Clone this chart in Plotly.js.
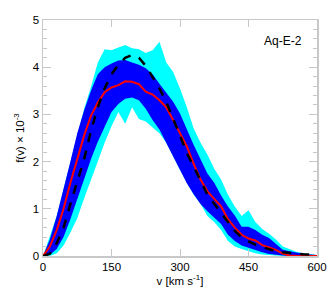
<!DOCTYPE html>
<html>
<head>
<meta charset="utf-8">
<script src="https://cdn.plot.ly/plotly-3.0.1.min.js"></script>
<style>html,body{margin:0;padding:0;background:#fff;}#chart{width:332px;height:295px;}</style>
</head>
<body>
<div id="chart"></div>
<script>
// speed grid, km/s
const velocity = [0,15,30,45,60,75,90,105,120,135,150,165,180,195,210,225,240,255,270,285,300,315,330,345,360,375,390,405,420,435,450,465,480,495,510,525,540,555,570,585,600];
// outer (cyan) band
const cyanLower = [0,0,0.06,0.22,0.5,0.8,1.22,1.62,2.0,2.4,2.75,3.05,2.8,3.15,2.9,2.85,2.72,2.6,2.4,2.1,1.82,1.55,1.3,1.1,0.85,0.72,0.55,0.32,0.2,0.15,0.1,0.06,0.03,0.015,0.005,0,0,0,0,0,0];
const cyanUpper = [0,0.42,0.85,1.42,2.0,2.55,3.12,3.58,4.1,4.38,4.36,4.42,4.47,4.4,4.38,4.3,4.36,4.54,4.1,3.9,3.55,3.15,2.7,2.4,2.15,1.85,1.62,1.3,1.05,0.85,0.97,0.72,0.57,0.47,0.35,0.2,0.14,0.09,0.06,0.04,0.02];
// inner (blue) band
const blueLower = [0,0.02,0.15,0.4,0.78,1.22,1.65,2.05,2.42,2.75,3.05,3.22,3.33,3.36,3.3,3.12,2.88,2.68,2.4,2.1,1.82,1.54,1.31,1.1,0.95,0.82,0.68,0.45,0.32,0.22,0.17,0.12,0.08,0.04,0.02,0.01,0,0,0,0,0];
const blueUpper = [0,0.35,0.85,1.4,2.0,2.6,3.08,3.5,3.85,4.0,4.08,4.14,4.15,4.1,4.05,3.98,3.85,3.65,3.45,3.27,3.02,2.67,2.35,2.05,1.75,1.55,1.28,1.05,0.86,0.62,0.62,0.55,0.45,0.38,0.25,0.13,0.1,0.07,0.05,0.03,0.02];
// median (red)
const median = [0,0.2,0.55,1.0,1.55,2.05,2.55,2.97,3.25,3.47,3.57,3.62,3.7,3.69,3.64,3.48,3.42,3.3,3.15,2.88,2.6,2.32,1.95,1.62,1.37,1.2,1.05,0.78,0.6,0.45,0.37,0.33,0.23,0.18,0.13,0.05,0.01,0.005,0.003,0.002,0.001];
// model (dashed black)
const model = [0,0.05,0.27,0.6,1.1,1.6,2.05,2.65,3.15,3.55,3.85,4.05,4.2,4.26,4.2,4.03,3.8,3.55,3.26,2.92,2.55,2.18,1.9,1.6,1.3,1.1,0.92,0.72,0.53,0.4,0.31,0.24,0.19,0.15,0.1,0.08,0.06,0.045,0.035,0.03,0.025];

const xTicks = [0,150,300,450,600];
const yTicks = [0,1,2,3,4,5];

const traces = [
  {x: velocity, y: cyanLower, mode:'lines', line:{width:0, color:'#00ffff'}, hoverinfo:'skip', showlegend:false},
  {x: velocity, y: cyanUpper, mode:'lines', line:{width:0, color:'#00ffff'}, fill:'tonexty', fillcolor:'#00ffff', showlegend:false},
  {x: velocity, y: blueLower, mode:'lines', line:{width:0, color:'#0000ff'}, hoverinfo:'skip', showlegend:false},
  {x: velocity, y: blueUpper, mode:'lines', line:{width:0, color:'#0000ff'}, fill:'tonexty', fillcolor:'#0000ff', showlegend:false},
  {x: velocity, y: median, mode:'lines', line:{width:2, color:'#ff0000'}, showlegend:false},
  {x: velocity, y: model, mode:'lines', line:{width:2.5, color:'#000000', dash:'dash'}, showlegend:false}
];

const font = {family:'"Liberation Sans", Arial, Helvetica, sans-serif', size:11.5, color:'#000'};
const axisCol = '#c8c8c8';

const layout = {
  width:332, height:295,
  margin:{l:43, r:15, t:20, b:39},
  paper_bgcolor:'#fff', plot_bgcolor:'#fff',
  font: font,
  xaxis:{
    range:[0,600], tickvals:xTicks, ticktext:xTicks.map(String),
    showgrid:false, zeroline:false,
    showline:true, linecolor:axisCol, linewidth:1.5, mirror:'ticks',
    ticks:'inside', ticklen:7, tickcolor:axisCol, tickwidth:1,
    tickfont:font,
    title:{text:'v [km s<sup>-1</sup>]', font:font, standoff:2}
  },
  yaxis:{
    range:[0,5], tickvals:yTicks, ticktext:yTicks.map(String),
    showgrid:false, zeroline:false,
    showline:true, linecolor:axisCol, linewidth:1.5, mirror:'ticks',
    ticks:'inside', ticklen:8, tickcolor:axisCol, tickwidth:1,
    minor:{dtick:0.2, ticks:'inside', ticklen:4, tickcolor:axisCol, tickwidth:1, showgrid:false},
    tickfont:font,
    title:{text:'f(v) × 10<sup>-3</sup>', font:font, standoff:6}
  },
  annotations:[
    {xref:'paper', yref:'paper', x:0.876, y:0.911, text:'Aq-E-2', showarrow:false, font:{family:font.family, size:12, color:'#000'}, xanchor:'center', yanchor:'middle'}
  ]
};

Plotly.newPlot('chart', traces, layout, {staticPlot:true, displayModeBar:false});
</script>
</body>
</html>
